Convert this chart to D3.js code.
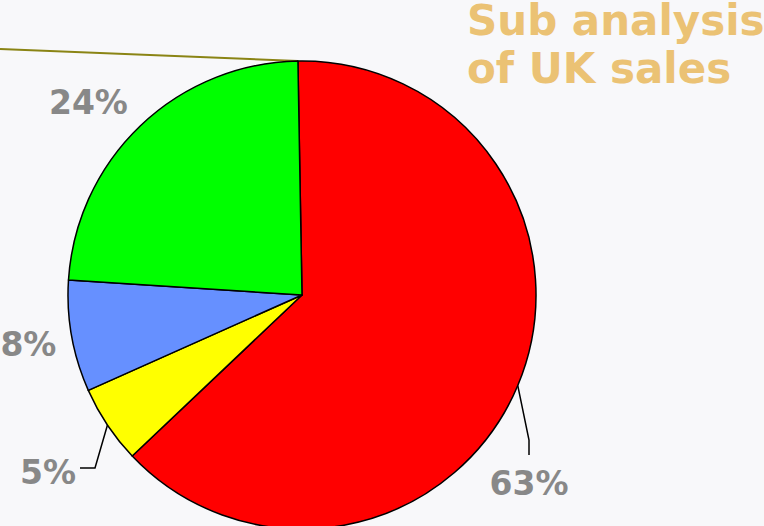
<!DOCTYPE html>
<html>
<head>
<meta charset="utf-8">
<script src="https://cdn.jsdelivr.net/npm/d3@7"></script>
<style>
  html, body { margin: 0; padding: 0; background: #f8f8fa; overflow: hidden; }
  svg { display: block; }
  .lbl { font-family: "DejaVu Sans", Verdana, sans-serif; font-weight: 700; font-style: normal; font-size: 33px; fill: #888888; }
  .title { font-family: "DejaVu Sans", Verdana, sans-serif; font-weight: 700; font-style: normal; font-size: 42px; fill: #ebc274; }
</style>
</head>
<body>
<div id="chart"></div>
<script>
// slices, clockwise from the top
var categories = ["A", "B", "C", "D"];
var values = [63.2, 5.4, 7.7, 23.7];
var colors = ["#ff0000", "#ffff00", "#6690ff", "#00ff00"];
var titleLines = ["Sub analysis", "of UK sales"];

var w = 764, h = 526;
var cx = 302, cy = 295, r = 234;
var startAngle = -1 * Math.PI / 180;

var svg = d3.select("#chart").append("svg")
  .attr("width", w)
  .attr("height", h);

var pie = d3.pie()
  .sort(null)
  .value(function(d) { return d; })
  .startAngle(startAngle)
  .endAngle(startAngle + 2 * Math.PI);

var arc = d3.arc().innerRadius(0).outerRadius(r);

var arcs = pie(values);

var g = svg.append("g").attr("transform", "translate(" + cx + "," + cy + ")");

// connector line from the main chart
g.append("line")
  .attr("x1", -cx).attr("y1", -246)
  .attr("x2", r * Math.sin(startAngle)).attr("y2", -r * Math.cos(startAngle))
  .attr("stroke", "#8a8414")
  .attr("stroke-width", 2);

g.selectAll("path.slice")
  .data(arcs)
  .enter().append("path")
  .attr("class", "slice")
  .attr("d", arc)
  .attr("fill", function(d, i) { return colors[i]; })
  .attr("stroke", "#000")
  .attr("stroke-width", 1.5)
  .attr("stroke-linejoin", "round");

function mid(d) { return (d.startAngle + d.endAngle) / 2; }
function pt(a, rad) { return [rad * Math.sin(a), -rad * Math.cos(a)]; }
var fmt = function(v) { return Math.round(v) + "%"; };

// label layout: radius for label, optional leader elbow, nudges
var layout = [
  { leader: [[227, 145], [227, 160]], dx: 0, dy: 40, anchor: "middle" },
  { leader: [[-207, 173], [-222, 173]], dx: -4, dy: 16, anchor: "end" },
  { rad: 278, leader: null, dx: 0, dy: 12, anchor: "middle" },
  { rad: 292, leader: null, dx: -12, dy: 30, anchor: "middle" }
];

arcs.forEach(function(d, i) {
  var L = layout[i];
  var a = mid(d);
  var base;
  if (L.leader) {
    var pts = [pt(a, r)].concat(L.leader);
    g.append("path")
      .attr("d", d3.line()(pts))
      .attr("fill", "none")
      .attr("stroke", "#000")
      .attr("stroke-width", 1.5);
    base = L.leader[L.leader.length - 1];
  } else {
    base = pt(a, L.rad);
  }
  g.append("text")
    .attr("class", "lbl")
    .attr("x", base[0] + L.dx)
    .attr("y", base[1] + L.dy)
    .attr("text-anchor", L.anchor)
    .text(fmt(values[i]));
});

svg.selectAll("text.title")
  .data(titleLines)
  .enter().append("text")
  .attr("class", "title")
  .attr("x", 467)
  .attr("y", function(d, i) { return 35 + i * 48; })
  .text(function(d) { return d; });
</script>
</body>
</html>
